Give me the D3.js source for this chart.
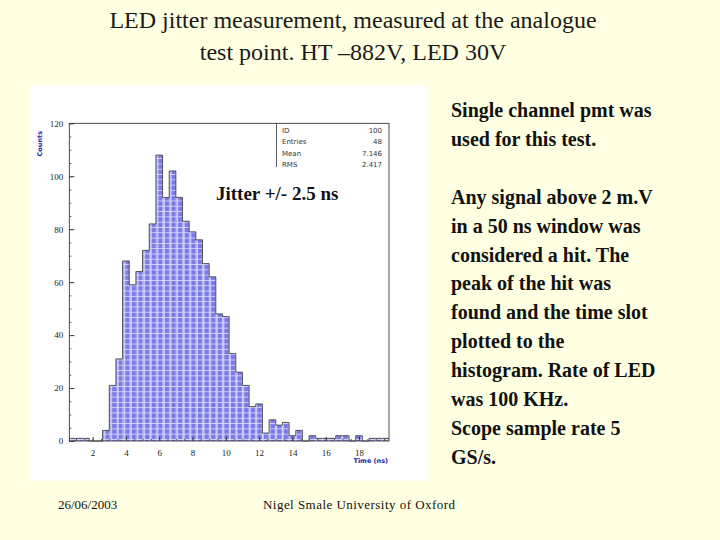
<!DOCTYPE html>
<html><head><meta charset="utf-8">
<script src="https://cdn.jsdelivr.net/npm/d3@7"></script>
<style>body{margin:0;background:#ffffe1;}svg{display:block}</style>
</head><body><svg id="c" width="720" height="540"></svg>
<script>
const binStart = 0.6, binWidth = 0.4;
const counts = [1,1,1,0,0,4,21,31,68,59,64,72,82,108,92,102,92,83,79,76,67,62,48,47,33,26,21,13,14,3,8,6,7,2,4,0,2,1,1,1,2,2,0,2,0,1,1,1];
const xTicks = [2,4,6,8,10,12,14,16,18];
const yTicks = [0,20,40,60,80,100,120];
const statLabels = ['ID','Entries','Mean','RMS'];
const statValues = ['100','48','7.146','2.417'];
const sideLines = ['Single channel pmt was','used for this test.','','Any signal above 2 m.V','in a 50 ns window was','considered a hit.  The','peak of the hit was','found and the time slot','plotted to the','histogram. Rate of LED','was 100 KHz.','Scope sample rate 5','GS/s.'];

const svg = d3.select('#c');
const serif = 'Liberation Serif, Times New Roman, serif';

// titles
svg.append('text').attr('x',353).attr('y',28).attr('text-anchor','middle').attr('font-family',serif).attr('font-size',24).attr('fill','#1a1a1a').text('LED jitter measurement, measured at the analogue');
svg.append('text').attr('x',353).attr('y',60).attr('text-anchor','middle').attr('font-family',serif).attr('font-size',24).attr('fill','#1a1a1a').text('test point.  HT \u2013882V, LED 30V');

// image panel
svg.append('rect').attr('x',30).attr('y',85).attr('width',397).attr('height',396).attr('fill','#fff');

const defs = svg.append('defs');
const pat = defs.append('pattern').attr('id','chk').attr('patternUnits','userSpaceOnUse').attr('width',6.6).attr('height',5.3);
pat.append('rect').attr('width',6.6).attr('height',5.3).attr('fill','#7b7be8');
pat.append('rect').attr('x',4.4).attr('width',2.2).attr('height',5.3).attr('fill','#c4c4f6');
pat.append('rect').attr('y',4.4).attr('width',6.6).attr('height',0.9).attr('fill','#d4d4f8');

const x = d3.scaleLinear().domain([0.6,19.8]).range([69.3,389]);
const y = d3.scaleLinear().domain([0,120]).range([441,123.3]);

const g = svg.append('g');
g.selectAll('rect.bar').data(counts).join('rect').attr('class','bar')
  .attr('x',(d,i)=>x(binStart+i*binWidth)).attr('width',x(binWidth)-x(0))
  .attr('y',d=>y(d)).attr('height',d=>y(0)-y(d)).attr('fill','url(#chk)');
// outline
const line = d3.line();
const pts = [];
counts.forEach((d,i)=>{pts.push([x(binStart+i*binWidth),y(d)]);pts.push([x(binStart+(i+1)*binWidth),y(d)]);});
g.append('path').attr('d',line(pts)).attr('fill','none').attr('stroke','#333').attr('stroke-width',0.8);
g.append('rect').attr('x',69.3).attr('y',123.3).attr('width',319.7).attr('height',317.7).attr('fill','none').attr('stroke','#222').attr('stroke-width',0.8);

const xa = svg.append('g').attr('transform','translate(0,441)').call(d3.axisBottom(x).tickValues(xTicks).tickSize(-4).tickFormat(d3.format('d')));
const ya = svg.append('g').attr('transform','translate(69.3,0)').call(d3.axisLeft(y).tickValues(yTicks).tickSize(-5));
[xa,ya].forEach(a=>{a.select('.domain').remove();a.selectAll('line').attr('stroke','#333');a.selectAll('text').attr('font-family',serif).attr('font-size',9).attr('fill','#222');});
xa.selectAll('text').attr('dy','1.3em');
ya.selectAll('text').attr('dx','-3');
svg.append('g').attr('transform','translate(0,441)').call(d3.axisBottom(x).ticks(40).tickSize(-2).tickFormat('')).call(a=>{a.select('.domain').remove();a.selectAll('line').attr('stroke','#555');});
svg.append('g').attr('transform','translate(69.3,0)').call(d3.axisLeft(y).ticks(24).tickSize(-2).tickFormat('')).call(a=>{a.select('.domain').remove();a.selectAll('line').attr('stroke','#555');});

svg.append('text').attr('x',388).attr('y',463).attr('text-anchor','end').attr('font-family','DejaVu Sans, sans-serif').attr('font-size',6.5).attr('font-weight','bold').attr('fill','#2222aa').text('Time (ns)');
svg.append('text').attr('transform','translate(42,131) rotate(-90)').attr('text-anchor','end').attr('font-family','DejaVu Sans, sans-serif').attr('font-size',6.5).attr('font-weight','bold').attr('fill','#2222aa').text('Counts');

// stats box
svg.append('line').attr('x1',276.5).attr('x2',276.5).attr('y1',123.3).attr('y2',167).attr('stroke','#333').attr('stroke-width',0.8);
statLabels.forEach((s,i)=>{
  svg.append('text').attr('x',282).attr('y',133+i*11.3).attr('font-family','DejaVu Sans, sans-serif').attr('font-size',7).attr('fill','#333').text(s);
  svg.append('text').attr('x',382).attr('y',133+i*11.3).attr('text-anchor','end').attr('font-family','DejaVu Sans, sans-serif').attr('font-size',7).attr('fill','#333').text(statValues[i]);
});
svg.append('text').attr('x',216).attr('y',200).attr('font-family',serif).attr('font-size',19).attr('font-weight','bold').attr('fill','#111').text('Jitter +/- 2.5 ns');

// side text
sideLines.forEach((s,i)=>{
  svg.append('text').attr('x',451).attr('y',117+i*28.9).attr('font-family',serif).attr('font-size',20).attr('font-weight','bold').attr('fill','#111').text(s);
});

svg.append('text').attr('x',58).attr('y',509).attr('font-family',serif).attr('font-size',13).attr('fill','#111').text('26/06/2003');
svg.append('text').attr('x',359).attr('y',509).attr('text-anchor','middle').attr('font-family',serif).attr('font-size',13).attr('textLength',192).attr('fill','#111').text('Nigel Smale University of Oxford');
</script></body></html>
